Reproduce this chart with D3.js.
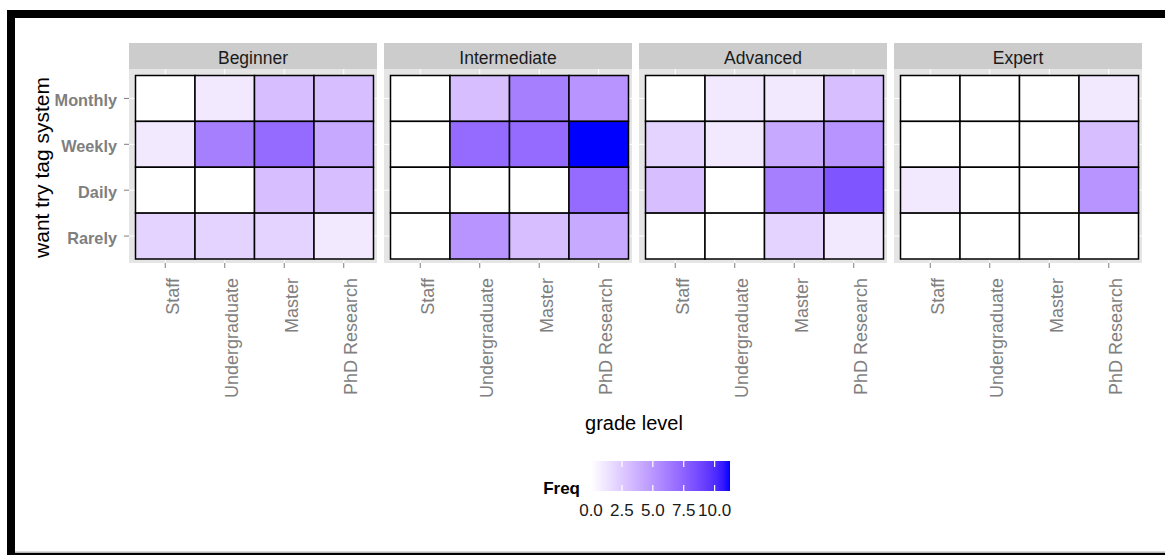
<!DOCTYPE html>
<html>
<head>
<meta charset="utf-8">
<script src="https://cdnjs.cloudflare.com/ajax/libs/d3/7.8.5/d3.min.js"></script>
<style>
  html, body { margin: 0; padding: 0; background: #ffffff; }
  svg { display: block; font-family: "Liberation Sans", Arial, Helvetica, sans-serif; }
</style>
</head>
<body>
<svg id="chart" width="1165" height="555"></svg>
<script>
// Facets, columns and rows of the heatmap
const levels = ["Beginner", "Intermediate", "Advanced", "Expert"];
const grades = ["Staff", "Undergraduate", "Master", "PhD Research"];
const frequencies = ["Monthly", "Weekly", "Daily", "Rarely"];

// Counts per facet: one row per frequency (Monthly, Weekly, Daily, Rarely),
// one column per grade (Staff, Undergraduate, Master, PhD Research)
const beginnerFreq     = [[0, 1, 3, 3], [1, 6, 7, 4], [0, 0, 3, 3], [2, 2, 2, 1]];
const intermediateFreq = [[0, 3, 6, 5], [0, 7, 7, 11], [0, 0, 0, 7], [0, 5, 3, 4]];
const advancedFreq     = [[0, 1, 1, 3], [2, 1, 4, 5], [3, 0, 6, 8], [0, 0, 2, 1]];
const expertFreq       = [[0, 0, 0, 1], [0, 0, 0, 3], [1, 0, 0, 5], [0, 0, 0, 0]];

// Colour bar ticks
const legendTicks = [0, 2.5, 5, 7.5, 10];
const legendTickLabels = ["0.0", "2.5", "5.0", "7.5", "10.0"];

const facetValues = [beginnerFreq, intermediateFreq, advancedFreq, expertFreq];

// Long-format records for the tiles
const cells = [];
levels.forEach((lvl, fi) => {
  frequencies.forEach((fr, ri) => {
    grades.forEach((gr, ci) => {
      cells.push({ level: lvl, grade: gr, freq: fr, value: facetValues[fi][ri][ci] });
    });
  });
});

const maxFreq = d3.max(cells, d => d.value);
const color = d3.scaleLinear()
  .domain([0, maxFreq])
  .range(["#ffffff", "#0000ff"])
  .interpolate(d3.interpolateLab);

const svg = d3.select("#chart");

// Outer frame
svg.append("rect").attr("x", 0).attr("y", 0).attr("width", 1165).attr("height", 555).attr("fill", "#ffffff");
svg.append("rect").attr("x", 7).attr("y", 10).attr("width", 1158).attr("height", 8).attr("fill", "#000");
svg.append("rect").attr("x", 7).attr("y", 10).attr("width", 8).attr("height", 545).attr("fill", "#000");
svg.append("rect").attr("x", 15).attr("y", 551.5).attr("width", 1150).attr("height", 1.5).attr("fill", "#b5b5b5");
svg.append("rect").attr("x", 7).attr("y", 553).attr("width", 1158).attr("height", 2).attr("fill", "#000");

// Facet layout
const panelTop = 69, panelBottom = 263, stripTop = 43;
const facetX = d3.scaleBand().domain(levels).range([129, 1142]).paddingInner(0.0275);
const bw = facetX.bandwidth();
const y = d3.scaleBand().domain(frequencies).range([75.5, 259]);

levels.forEach((lvl, fi) => {
  const px = facetX(lvl);
  const x = d3.scaleBand().domain(grades).range([px + 6.5, px + bw - 3.5]);
  const g = svg.append("g").attr("class", "facet");

  // strip
  g.append("rect").attr("x", px).attr("y", stripTop).attr("width", bw).attr("height", panelTop - stripTop)
    .attr("fill", "#cccccc");
  g.append("text").attr("x", px + bw / 2).attr("y", 64).attr("text-anchor", "middle")
    .attr("font-size", 17.5).attr("fill", "#1a1a1a").text(lvl);

  // panel background and grid
  g.append("rect").attr("x", px).attr("y", panelTop).attr("width", bw).attr("height", panelBottom - panelTop)
    .attr("fill", "#e5e5e5");
  g.selectAll("line.gx").data(grades).join("line").attr("class", "gx")
    .attr("x1", d => x(d) + x.bandwidth() / 2).attr("x2", d => x(d) + x.bandwidth() / 2)
    .attr("y1", panelTop).attr("y2", panelBottom).attr("stroke", "#fff").attr("stroke-width", 1);
  g.selectAll("line.gy").data(frequencies).join("line").attr("class", "gy")
    .attr("y1", d => y(d) + y.bandwidth() / 2).attr("y2", d => y(d) + y.bandwidth() / 2)
    .attr("x1", px).attr("x2", px + bw).attr("stroke", "#fff").attr("stroke-width", 1);

  // tiles
  g.selectAll("rect.tile").data(cells.filter(c => c.level === lvl)).join("rect").attr("class", "tile")
    .attr("x", d => x(d.grade)).attr("y", d => y(d.freq))
    .attr("width", x.bandwidth()).attr("height", y.bandwidth())
    .attr("fill", d => color(d.value)).attr("stroke", "#000").attr("stroke-width", 1.5);

  // bottom axis with vertical labels
  const ax = g.append("g").attr("transform", `translate(0,${panelBottom})`)
    .call(d3.axisBottom(x).tickSize(5).tickSizeOuter(0));
  ax.select(".domain").remove();
  ax.selectAll(".tick line").attr("stroke", "#7f7f7f");
  ax.selectAll(".tick text")
    .attr("transform", "rotate(-90)")
    .attr("x", -15).attr("y", 13.5).attr("dy", 0)
    .attr("text-anchor", "end")
    .attr("font-size", 18).attr("fill", "#7f7f7f")
    .attr("font-family", "Liberation Sans, Arial, sans-serif");
});

// left axis (first facet only)
const ay = svg.append("g").attr("transform", `translate(${facetX(levels[0])},0)`)
  .call(d3.axisLeft(y).tickSize(5).tickPadding(7).tickSizeOuter(0));
ay.select(".domain").remove();
ay.selectAll(".tick line").attr("stroke", "#7f7f7f");
ay.selectAll(".tick text").attr("font-size", 16.3).attr("font-weight", "bold").attr("fill", "#7f7f7f")
  .attr("font-family", "Liberation Sans, Arial, sans-serif").attr("dy", "0.48em");

// axis titles
svg.append("text").attr("transform", "translate(49,167.5) rotate(-90)").attr("text-anchor", "middle")
  .attr("font-size", 21).attr("fill", "#000").text("want try tag system");
svg.append("text").attr("x", 634).attr("y", 430).attr("text-anchor", "middle")
  .attr("font-size", 20).attr("fill", "#000").text("grade level");

// colour bar legend
const lx = d3.scaleLinear().domain([0, maxFreq]).range([591, 727]);
const barTop = 461, barH = 30;
const defs = svg.append("defs");
const grad = defs.append("linearGradient").attr("id", "freqGrad")
  .attr("x1", "0%").attr("x2", "100%").attr("y1", "0%").attr("y2", "0%");
d3.range(0, 1.0001, 0.05).forEach(t => {
  grad.append("stop").attr("offset", `${t * 100}%`).attr("stop-color", color(t * maxFreq));
});
svg.append("rect").attr("x", lx(0)).attr("y", barTop).attr("width", lx(maxFreq) - lx(0) + 3).attr("height", barH)
  .attr("fill", "url(#freqGrad)");
const lt = svg.append("g");
lt.selectAll("line.top").data(legendTicks).join("line").attr("class", "top")
  .attr("x1", d => lx(d)).attr("x2", d => lx(d)).attr("y1", barTop).attr("y2", barTop + 6)
  .attr("stroke", "#fff").attr("stroke-width", 1.2);
lt.selectAll("line.bot").data(legendTicks).join("line").attr("class", "bot")
  .attr("x1", d => lx(d)).attr("x2", d => lx(d)).attr("y1", barTop + barH - 6).attr("y2", barTop + barH)
  .attr("stroke", "#fff").attr("stroke-width", 1.2);
lt.selectAll("text").data(legendTicks).join("text")
  .attr("x", d => lx(d)).attr("y", 516).attr("text-anchor", "middle")
  .attr("font-size", 17).attr("fill", "#1a1a1a").text((d, i) => legendTickLabels[i]);
svg.append("text").attr("x", 580).attr("y", 494).attr("text-anchor", "end")
  .attr("font-size", 17).attr("font-weight", "bold").attr("fill", "#000").text("Freq");
</script>
</body>
</html>
